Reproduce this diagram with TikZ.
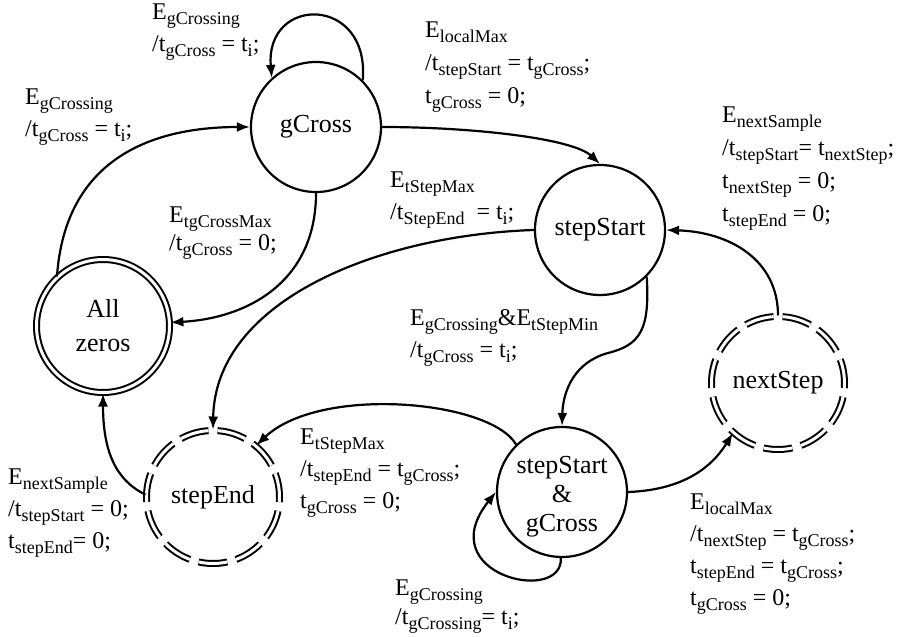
\documentclass[tikz,border=0pt]{standalone}
\usepackage{fontspec}
\setmainfont{Liberation Serif}
\usetikzlibrary{arrows.meta}
\newcommand\sbx[1]{\raisebox{-5pt}{\fontsize{18}{18}\selectfont #1}}
\begin{document}
\begin{tikzpicture}[x=1pt,y=-1pt,
  st/.style={circle,draw,line width=2.2pt,minimum size=130pt,inner sep=0pt,
    font=\fontsize{26}{29}\selectfont,align=center},
  fin/.style={circle,draw,line width=2pt,double,double distance=3pt,
    minimum size=133pt,inner sep=0pt,font=\fontsize{26}{34}\selectfont,align=center},
  dfin/.style={fin,dash pattern=on 29pt off 8.98pt,dash phase=5pt},
  tr/.style={line width=2.2pt,-{Latex[length=13pt,width=10pt]}},
  lbl/.style={anchor=north west,inner sep=0pt,align=left,
    font=\fontsize{24}{32}\selectfont}]
\useasboundingbox (0,0) rectangle (903,637);

\node[st] (gC) at (316,127) {gCross};
\node[st] (sS) at (600,230) {stepStart};
\node[fin] (AZ) at (103,326) {All\\zeros};
\node[dfin] (sE) at (213,497) {stepEnd};
\node[dfin] (nS) at (778,383) {nextStep};
\node[st] (sG) at (562,492) {\rule{0pt}{26pt}stepStart\\\&\\gCross};

% transitions
\draw[tr] (gC.45) .. controls (370,-5) and (265,-5) .. (gC.132);
\draw[tr] (AZ.133) .. controls (65,160) and (150,127) .. (gC.west);
\draw[tr] (gC.south) .. controls (316,280) and (250,318) .. (AZ.3);
\draw[tr] (gC.east) .. controls (470,127) and (572,138) .. (sS.north);
\draw[tr] (sS.west) .. controls (380,235) and (215,300) .. (sE.north);
\draw[tr] (sS.-45) .. controls (650,330) and (640,345) .. (608,353)
   .. controls (575,362) and (563,390) .. (sG.north);
\draw[tr] (sG.134) .. controls (490,400) and (320,385) .. (sE.50);
\draw[tr] (sE.178) .. controls (115,480) and (103,450) .. (AZ.south);
\draw[tr] (sG.-91) .. controls (563,605) and (430,575) .. (sG.west);
\draw[tr] (sG.east) .. controls (680,490) and (710,470) .. (nS.-132);
\draw[tr] (nS.north) .. controls (778,260) and (730,232) .. (sS.east);

% labels
\node[lbl] (l1) at (152,4) {E\sbx{gCrossing}\\/t\sbx{gCross} = t\sbx{i};};
\node[lbl] (l2) at (25,89) {E\sbx{gCrossing}\\/t\sbx{gCross} = t\sbx{i};};
\node[lbl,font=\fontsize{24}{28}\selectfont] (l3) at (169,207) {E\sbx{tgCrossMax}\\/t\sbx{gCross} = 0;};
\node[lbl,font=\fontsize{24}{33}\selectfont] (l4) at (425,22) {E\sbx{localMax}\\/t\sbx{stepStart} = t\sbx{gCross};\\t\sbx{gCross} = 0;};
\node[lbl] (l5) at (390,172) {E\sbx{tStepMax}\\/t\sbx{StepEnd}\ \ = t\sbx{i};};
\node[lbl] (l6) at (410,309) {E\sbx{gCrossing}\&E\sbx{tStepMin}\\/t\sbx{gCross} = t\sbx{i};};
\node[lbl] (l7) at (300,429) {E\sbx{tStepMax}\\/t\sbx{stepEnd} = t\sbx{gCross};\\t\sbx{gCross} = 0;};
\node[lbl] (l8) at (8,469) {E\sbx{nextSample}\\/t\sbx{stepStart} = 0;\\t\sbx{stepEnd}= 0;};
\node[lbl,font=\fontsize{24}{29}\selectfont] (l9) at (395,580) {E\sbx{gCrossing}\\/t\sbx{gCrossing}= t\sbx{i};};
\node[lbl] (l10) at (690,494) {E\sbx{localMax}\\/t\sbx{nextStep} = t\sbx{gCross};\\t\sbx{stepEnd} = t\sbx{gCross};\\t\sbx{gCross} = 0;};
\node[lbl,font=\fontsize{24}{33}\selectfont] (l11) at (722,107) {E\sbx{nextSample}\\/t\sbx{stepStart}= t\sbx{nextStep};\\t\sbx{nextStep} = 0;\\t\sbx{stepEnd} = 0;};
\end{tikzpicture}
\end{document}
